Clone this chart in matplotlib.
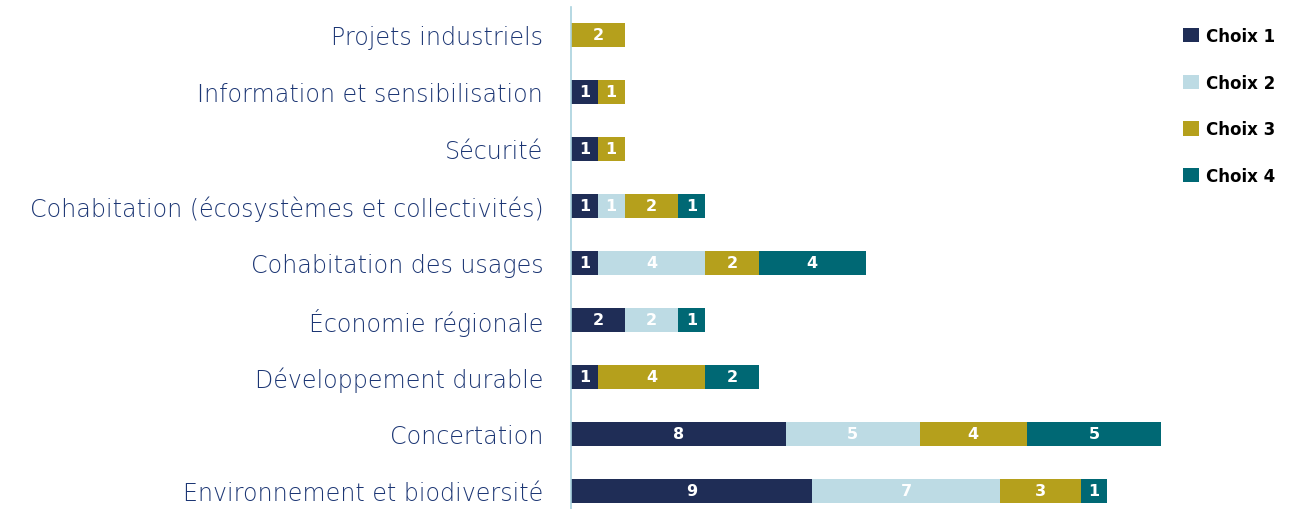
from matplotlib import pyplot as plt
from matplotlib.patches import Patch
import numpy as np

categories = [
    'Projets industriels',
    'Information et sensibilisation',
    'Sécurité',
    'Cohabitation (écosystèmes et collectivités)',
    'Cohabitation des usages',
    'Économie régionale',
    'Développement durable',
    'Concertation',
    'Environnement et biodiversité',
]
choix_1 = [0, 1, 1, 1, 1, 2, 1, 8, 9]
choix_2 = [0, 0, 0, 1, 4, 2, 0, 5, 7]
choix_3 = [2, 1, 1, 2, 2, 0, 4, 4, 3]
choix_4 = [0, 0, 0, 1, 4, 1, 2, 5, 1]
series_names = ['Choix 1', 'Choix 2', 'Choix 3', 'Choix 4']
colors = ['#1f2d56', '#bddbe4', '#b5a01c', '#006874']


def main():
    fig = plt.figure(figsize=(13.13, 5.10), dpi=100)
    ax = fig.add_axes([571 / 1313, 0, (1161 - 571) / 1313, 502.5 / 510])

    series = [choix_1, choix_2, choix_3, choix_4]
    n = len(categories)
    y = np.arange(n)[::-1]
    left = np.zeros(n)
    for vals, color in zip(series, colors):
        vals = np.array(vals)
        ax.barh(y, vals, left=left, height=0.42, color=color)
        for yi, l, v in zip(y, left, vals):
            if v > 0:
                ax.text(l + v / 2, yi, str(v), ha='center', va='center',
                        color='white', fontsize=11.5, fontweight='bold')
        left += vals

    ax.set_xlim(0, 22)
    ax.set_ylim(-0.316, n - 0.5)
    ax.set_yticks(y)
    ax.set_yticklabels(categories, fontsize=17.1, color='#1c3674',
                       fontfamily='DejaVu Sans', fontweight='light')
    ax.tick_params(axis='y', length=0, pad=20)
    ax.set_xticks([])
    for side in ['top', 'right', 'bottom']:
        ax.spines[side].set_visible(False)
    ax.spines['left'].set_color('#a9d2de')
    ax.spines['left'].set_linewidth(1.2)

    handles = [Patch(facecolor=c, edgecolor='none') for c in colors]
    fig.legend(handles, series_names, loc='upper left',
               bbox_to_anchor=(1168 / 1313, 1 - 13 / 510), frameon=False,
               prop={'size': 12, 'weight': 'bold'}, handlelength=0.95,
               handleheight=0.95, handletextpad=0.45, labelspacing=1.72)

    fig.savefig('out.png', dpi=100)


if __name__ == '__main__':
    main()
